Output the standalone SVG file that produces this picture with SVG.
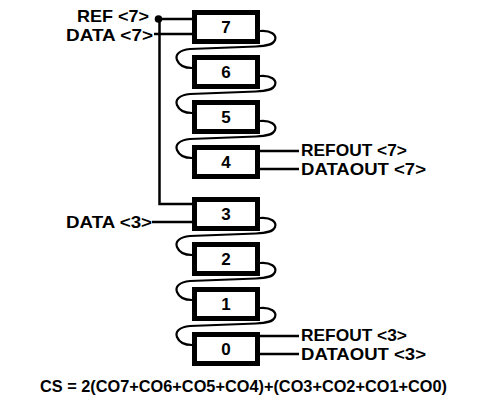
<svg xmlns="http://www.w3.org/2000/svg" width="485" height="402" viewBox="0 0 485 402">
  <style>
    .box { fill: #fff; stroke: #000; stroke-width: 5; }
    .num { font-family: "Liberation Sans", Arial, sans-serif; font-weight: bold; font-size: 17px; text-anchor: middle; fill: #000; }
    .lbl { font-family: "Liberation Sans", Arial, sans-serif; font-weight: bold; font-size: 16.5px; fill: #000; }
    .wire { fill: none; stroke: #000; stroke-width: 2.5; }
    .loop { fill: none; stroke: #000; stroke-width: 2.2; }
  </style>
  <defs>
    <!-- serpentine link from the right edge of one cell to the left edge of the next cell below -->
    <path id="loopShape" class="loop" d="M260,31 C271,30 277,35 275,40 C273,45 266,46 256,46.5 L190,49 C179,50 175,55 177,60 C179,65 184,68 192,68"/>
  </defs>

  <!-- connectors -->
  <g id="connectors">
    <use href="#loopShape"/>
    <use href="#loopShape" transform="translate(0,45)"/>
    <use href="#loopShape" transform="translate(0,90)"/>
    <use href="#loopShape" transform="translate(0,187)"/>
    <use href="#loopShape" transform="translate(0,232)"/>
    <use href="#loopShape" transform="translate(0,277)"/>

    <!-- reference input, tapped down to cell 3 -->
    <polyline class="wire" points="158.5,19 192,19"/>
    <polyline class="wire" points="159.5,19 159.5,204 192,204"/>
    <circle cx="158.5" cy="19" r="3.8" fill="#000"/>
    <!-- data inputs -->
    <line class="wire" x1="154" y1="34" x2="192" y2="34"/>
    <line class="wire" x1="152" y1="222" x2="192" y2="222"/>
    <!-- outputs -->
    <line class="wire" x1="260" y1="151" x2="299" y2="151"/>
    <line class="wire" x1="260" y1="169" x2="299" y2="169"/>
    <line class="wire" x1="260" y1="336" x2="299" y2="336"/>
    <line class="wire" x1="260" y1="354" x2="299" y2="354"/>
  </g>

  <!-- cells -->
  <g id="cell7"><rect class="box" x="194.5" y="12.5" width="63" height="29"/><text class="num" x="226" y="33">7</text></g>
  <g id="cell6"><rect class="box" x="194.5" y="57.5" width="63" height="29"/><text class="num" x="226" y="78">6</text></g>
  <g id="cell5"><rect class="box" x="194.5" y="102.5" width="63" height="29"/><text class="num" x="226" y="123">5</text></g>
  <g id="cell4"><rect class="box" x="194.5" y="147.5" width="63" height="29"/><text class="num" x="226" y="168">4</text></g>
  <g id="cell3"><rect class="box" x="194.5" y="199.5" width="63" height="29"/><text class="num" x="226" y="220">3</text></g>
  <g id="cell2"><rect class="box" x="194.5" y="244.5" width="63" height="29"/><text class="num" x="226" y="265">2</text></g>
  <g id="cell1"><rect class="box" x="194.5" y="289.5" width="63" height="29"/><text class="num" x="226" y="310">1</text></g>
  <g id="cell0"><rect class="box" x="194.5" y="334.5" width="63" height="29"/><text class="num" x="226" y="355">0</text></g>

  <!-- labels -->
  <g id="labels">
    <text class="lbl" x="77" y="21.5" textLength="72" lengthAdjust="spacingAndGlyphs">REF &lt;7&gt;</text>
    <text class="lbl" x="66" y="40.5" textLength="87" lengthAdjust="spacingAndGlyphs">DATA &lt;7&gt;</text>
    <text class="lbl" x="66" y="228" textLength="86" lengthAdjust="spacingAndGlyphs">DATA &lt;3&gt;</text>
    <text class="lbl" x="301" y="155.5" textLength="106" lengthAdjust="spacingAndGlyphs">REFOUT &lt;7&gt;</text>
    <text class="lbl" x="301" y="174.5" textLength="125" lengthAdjust="spacingAndGlyphs">DATAOUT &lt;7&gt;</text>
    <text class="lbl" x="301" y="340.5" textLength="106" lengthAdjust="spacingAndGlyphs">REFOUT &lt;3&gt;</text>
    <text class="lbl" x="301" y="359.5" textLength="125" lengthAdjust="spacingAndGlyphs">DATAOUT &lt;3&gt;</text>
    <text class="lbl" x="40" y="392" font-size="17" textLength="407" lengthAdjust="spacingAndGlyphs">CS = 2(CO7+CO6+CO5+CO4)+(CO3+CO2+CO1+CO0)</text>
  </g>
</svg>
